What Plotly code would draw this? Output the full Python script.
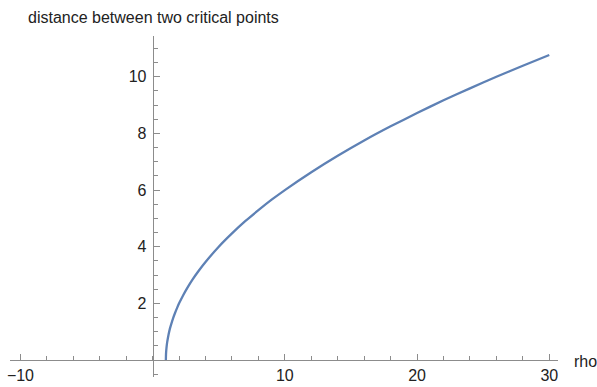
import plotly.graph_objects as go

# Distance between the two critical points as a function of rho
rho = [1.0, 1.01, 1.03, 1.06, 1.1, 1.15, 1.2, 1.3, 1.4, 1.55, 1.7, 1.85, 2.0, 2.3, 2.6, 3.0,
       3.5, 4.0, 5.0, 6.0, 7.0, 8.0, 9.0, 10.0, 12.0, 14.0, 16.0, 18.0, 20.0, 22.0,
       24.0, 26.0, 28.0, 30.0]
distance = [0.0, 0.2, 0.35, 0.49, 0.63, 0.77, 0.89, 1.1, 1.26, 1.48, 1.67, 1.84, 2.0,
            2.28, 2.53, 2.83, 3.16, 3.46, 4.0, 4.47, 4.9, 5.29, 5.66, 6.0, 6.63,
            7.21, 7.75, 8.25, 8.72, 9.17, 9.59, 10.0, 10.39, 10.77]

x_ticks = [-10, 10, 20, 30]
y_ticks = [2, 4, 6, 8, 10]

x_range = [-10.79, 30.66]
y_range = [-0.60, 11.44]

FONT = "Liberation Sans, Arial, sans-serif"
AXIS_COLOR = "#8c8c8c"
TEXT_COLOR = "#222222"

fig = go.Figure()
fig.add_trace(go.Scatter(
    x=rho, y=distance, mode="lines",
    line=dict(color="#5E81B5", width=2.3, shape="spline", smoothing=0.6),
    hoverinfo="skip",
))

# axes cross at the origin
x_pos = (0 - y_range[0]) / (y_range[1] - y_range[0])
y_pos = (0 - x_range[0]) / (x_range[1] - x_range[0])

axis_common = dict(
    showgrid=False, zeroline=False, showline=True, automargin=False,
    linecolor=AXIS_COLOR, linewidth=1,
    tickmode="array",
    ticks="inside", ticklen=6, tickwidth=1, tickcolor=AXIS_COLOR,
    tickfont=dict(family=FONT, size=16, color=TEXT_COLOR),
    fixedrange=True,
)

fig.update_layout(
    template="none",
    width=597, height=387,
    margin=dict(l=10, r=39, t=36, b=10, autoexpand=False),
    paper_bgcolor="white", plot_bgcolor="white",
    showlegend=False,
    font=dict(family=FONT, size=16, color=TEXT_COLOR),
    xaxis=dict(
        range=x_range, anchor="free", position=x_pos, tickvals=x_ticks,
        ticklabelstandoff=1,
        minor=dict(ticks="inside", dtick=2, ticklen=4, tickwidth=1, tickcolor=AXIS_COLOR),
        **axis_common,
    ),
    yaxis=dict(
        range=y_range, anchor="free", position=y_pos, tickvals=y_ticks,
        ticklabelstandoff=3,
        minor=dict(ticks="inside", dtick=0.5, ticklen=4, tickwidth=1, tickcolor=AXIS_COLOR),
        **axis_common,
    ),
    annotations=[
        dict(text="distance between two critical points", xref="paper", yref="paper",
             x=16 / 548, y=1.0, xanchor="left", yanchor="middle", showarrow=False,
             yshift=19, font=dict(family=FONT, size=16, color=TEXT_COLOR)),
        dict(text="rho", xref="paper", yref="paper",
             x=1.0, y=x_pos, xanchor="left", yanchor="middle", showarrow=False,
             xshift=14, yshift=-1, font=dict(family=FONT, size=16, color=TEXT_COLOR)),
    ],
)

fig.write_html("out.html")
